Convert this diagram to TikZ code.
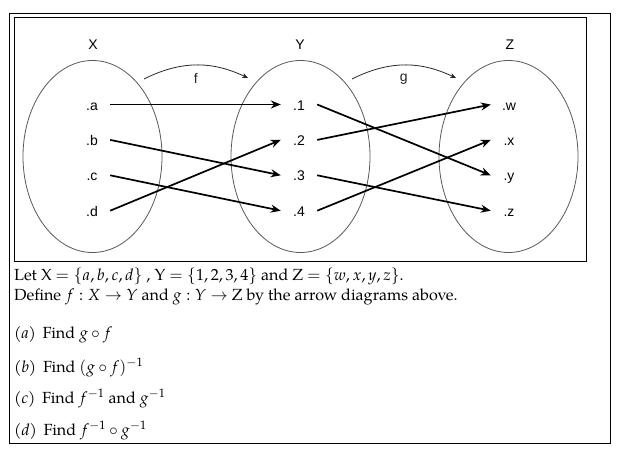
\documentclass[tikz,border=0pt]{standalone}
\usepackage{mathpazo}
\usepackage{fontspec}
\setmainfont{TeX Gyre Pagella}
\newfontfamily\diagfont{Liberation Sans}
\usetikzlibrary{positioning,arrows.meta,shapes.geometric}
\tikzset{
  setoval/.style={ellipse, draw=black!65, line width=0.8pt, minimum width=139pt, minimum height=192pt, inner sep=0pt},
  setname/.style={font=\diagfont\fontsize{14}{14}\selectfont, anchor=base},
  elem/.style={font=\diagfont\fontsize{14}{14}\selectfont, minimum width=36pt, inner sep=0pt, text height=11pt, text depth=0pt},
  arr/.style={-{Stealth[length=10pt, width=8pt]}, line width=1.7pt},
  maparr/.style={-{Stealth[length=6pt, width=5pt]}, line width=0.8pt, black!85, bend left=26},
  txt/.style={font=\fontsize{16.1}{20}\selectfont, anchor=base west, inner sep=0pt}
}
\begin{document}
\begin{tikzpicture}[x=1pt, y=-1pt]
\useasboundingbox (0,0) rectangle (618,455);
% frames
\draw[line width=1pt] (9.5,13.5) rectangle (610.5,443);
\draw[line width=1pt] (14.5,17.5) rectangle (586,261.5);
% the three sets
\node[setoval] (setX) at (92.5,156.5) {};
\node[setoval] (setY) at (300.5,156.5) {};
\node[setoval] (setZ) at (508.5,156.5) {};
\node[setname] (nX) at (93,49) {X};
\node[setname] (nY) at (300,49) {Y};
\node[setname] (nZ) at (510,49) {Z};
% elements
\node[elem] (a) at (92,104.5) {.a};
\node[elem, below=24pt of a] (b) {.b};
\node[elem, below=24pt of b] (c) {.c};
\node[elem, below=24pt of c] (d) {.d};
\node[elem] (y1) at (299,104.5) {.1};
\node[elem, below=24pt of y1] (y2) {.2};
\node[elem, below=24pt of y2] (y3) {.3};
\node[elem, below=24pt of y3] (y4) {.4};
\node[elem] (w) at (509,104.5) {.w};
\node[elem, below=24pt of w] (x) {.x};
\node[elem, below=24pt of x] (y) {.y};
\node[elem, below=24pt of y] (z) {.z};
% f and g
\coordinate (fstart) at (144,79); \coordinate (fend) at (248,78);
\coordinate (gstart) at (352,79); \coordinate (gend) at (456,78);
\draw[maparr] (fstart) to node[below=5pt, setname, anchor=north]{f} (fend);
\draw[maparr] (gstart) to node[below=5pt, setname, anchor=north]{g} (gend);
\draw[arr] (a.east)--(y1.west); \draw[arr] (b.east)--(y3.west);
\draw[arr] (c.east)--(y4.west); \draw[arr] (d.east)--(y2.west);
\draw[arr] (y1.east)--(y.west); \draw[arr] (y2.east)--(w.west);
\draw[arr] (y3.east)--(z.west); \draw[arr] (y4.east)--(x.west);
% questions
\node[txt] (given) at (14,280) {Let X $=\{a,b,c,d\}$ , Y $=\{1,2,3,4\}$ and Z $=\{w,x,y,z\}$.};
\node[txt] (define) at (14,300) {Define $f:X\rightarrow Y$ and $g:Y\rightarrow$ Z by the arrow diagrams above.};
\node[txt] (qa) at (14,338) {(\textit{a})\, Find $g\circ f$};
\node[txt] (qb) at (14,372) {(\textit{b})\, Find $(g\circ f)^{-1}$};
\node[txt] (qc) at (14,403) {(\textit{c})\, Find $f^{-1}$ and $g^{-1}$};
\node[txt] (qd) at (14,435) {(\textit{d})\, Find $f^{-1}\circ g^{-1}$};
\end{tikzpicture}
\end{document}
